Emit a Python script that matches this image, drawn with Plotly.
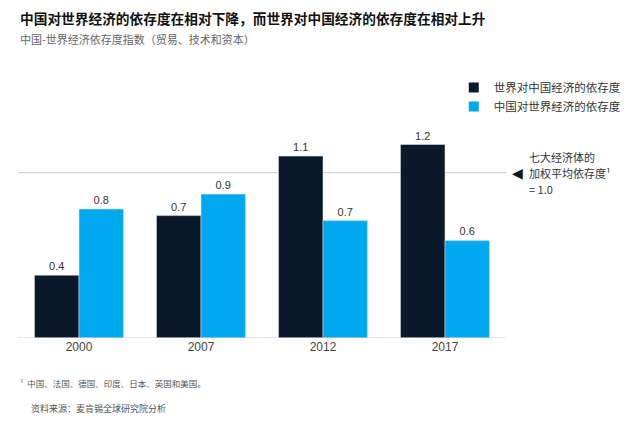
import plotly.graph_objects as go

years = ["2000", "2007", "2012", "2017"]
world_on_china = [0.38, 0.74, 1.10, 1.17]
world_on_china_labels = ["0.4", "0.7", "1.1", "1.2"]
china_on_world = [0.78, 0.87, 0.71, 0.59]
china_on_world_labels = ["0.8", "0.9", "0.7", "0.6"]
series_names = ["世界对中国经济的依存度", "中国对世界经济的依存度"]
avg_value = 1.0
avg_note_lines = ["七大经济体的", "加权平均依存度¹", "= 1.0"]

DARK = "#0a1a2a"
BLUE = "#00a8f0"
CJK = "Noto Sans CJK SC"
LAT = "Liberation Sans, Noto Sans CJK SC"

fig = go.Figure()
fig.add_trace(go.Bar(
    x=years, y=world_on_china, name=series_names[0], marker_color=DARK, showlegend=False,
    text=world_on_china_labels, textposition="outside", cliponaxis=False,
    textfont=dict(family=LAT, size=11, color="#333333"),
))
fig.add_trace(go.Bar(
    x=years, y=china_on_world, name=series_names[1], marker_color=BLUE, showlegend=False,
    text=china_on_world_labels, textposition="outside", cliponaxis=False,
    textfont=dict(family=LAT, size=11, color="#333333"),
))
# legend proxies (small square swatches)
for nm, col, grp in [(series_names[0], DARK, "a"), (series_names[1], BLUE, "b")]:
    fig.add_trace(go.Scatter(x=[None], y=[None], mode="markers", name=nm, legendgroup=grp,
                             marker=dict(symbol="square", size=10, color=col)))

fig.add_shape(type="line", xref="paper", yref="y", x0=0, x1=1, y0=avg_value, y1=avg_value,
              line=dict(color="#cccccc", width=1), layer="below")
fig.add_shape(type="line", xref="paper", yref="y", x0=0, x1=1, y0=0, y1=0,
              line=dict(color="#cccccc", width=1), layer="above")

fig.add_annotation(xref="paper", yref="y", x=1.0, y=avg_value, xanchor="left", yanchor="middle",
                   xshift=4, text="◀", showarrow=False, font=dict(size=14, color=DARK, family="DejaVu Sans"))
for i, line in enumerate(avg_note_lines):
    fig.add_annotation(xref="paper", yref="y", x=1.0, y=avg_value, xanchor="left", yanchor="middle",
                       xshift=21, yshift=16 - 16 * i, align="left", showarrow=False,
                       text=line, font=dict(size=11, color="#333333", family=CJK))

fig.add_annotation(xref="paper", yref="paper", x=0, y=1, xanchor="left", yanchor="top",
                   xshift=0, yshift=117, text="<b>中国对世界经济的依存度在相对下降，而世界对中国经济的依存度在相对上升</b>",
                   showarrow=False, align="left", font=dict(size=13.7, color="#111111", family=CJK))
fig.add_annotation(xref="paper", yref="paper", x=0, y=1, xanchor="left", yanchor="top",
                   xshift=0, yshift=94, text="中国-世界经济依存度指数（贸易、技术和资本）",
                   showarrow=False, align="left", font=dict(size=11, color="#666666", family=CJK))
fig.add_annotation(xref="paper", yref="paper", x=0, y=0, xanchor="left", yanchor="top",
                   xshift=0, yshift=-37, text="¹  中国、法国、德国、印度、日本、英国和美国。",
                   showarrow=False, align="left", font=dict(size=8.5, color="#555555", family=CJK))
fig.add_annotation(xref="paper", yref="paper", x=0, y=0, xanchor="left", yanchor="top",
                   xshift=11, yshift=-62, text="资料来源：麦肯锡全球研究院分析",
                   showarrow=False, align="left", font=dict(size=9, color="#555555", family=CJK))

fig.update_layout(
    width=637, height=421,
    margin=dict(l=18, r=131, t=123, b=83, autoexpand=False),
    paper_bgcolor="white", plot_bgcolor="white",
    barmode="group", bargap=0.27, bargroupgap=0,
    showlegend=True,
    legend=dict(x=0.893, y=1.233, xanchor="left", yanchor="top", traceorder="normal",
                font=dict(size=11.5, color="#333333", family=CJK),
                tracegroupgap=6, bgcolor="rgba(0,0,0,0)"),
    xaxis=dict(type="category", range=[-0.5, 3.5], showgrid=False, zeroline=False,
               showline=False, ticks="", tickfont=dict(family=LAT, size=12, color="#444444")),
    yaxis=dict(range=[0, 1.3], showgrid=False, zeroline=False, showline=False,
               showticklabels=False, ticks=""),
)

fig.write_html("out.html", config={"displayModeBar": False},
               post_script="document.body.style.margin='0';")
